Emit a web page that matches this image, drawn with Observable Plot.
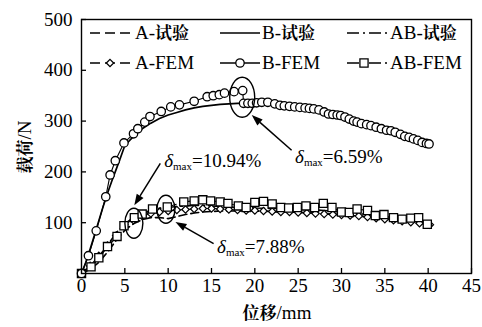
<!DOCTYPE html>
<html><head><meta charset="utf-8">
<script src="https://cdn.jsdelivr.net/npm/d3@7"></script>
<script src="https://cdn.jsdelivr.net/npm/@observablehq/plot@0.6"></script>
<style>
body{margin:0;background:#fff;font-family:"Liberation Serif";}
#chart{width:482px;height:327px;}
</style></head><body><div id="chart"></div>
<script>
// ---- tick labels ----
const xTicks = [0,5,10,15,20,25,30,35,40,45];
const yTicks = [100,200,300,400,500];
const xTitle = "位移/mm";
const yTitle = "载荷/N";
const legendLabels = ["A-试验","B-试验","AB-试验","A-FEM","B-FEM","AB-FEM"];

// ---- B test (solid) ----
const bTestX = [0,0.5,1,1.5,2,2.5,3,3.5,4,4.5,5,6,7,8,9,10,11,12,13,14,15,16,17,18,19,20,21,22,23,24,25,26,27,28,29,30,31,32,33,34,35,36,37,38,39,40];
const bTestY = [0,22,48,76,104,132,158,182,205,228,252,270,285,296,305,312,317,322,326,329,331,333,334,335,335,336,335,333,330,327,325,322,317,313,310,306,301,296,292,288,284,279,273,267,261,256];
// ---- B FEM (circles) ----
const bFemX = [0,0.8,1.7,2.8,3.3,3.9,4.9,6.0,6.5,7.3,7.9,9.2,10.3,11.3,13.0,14.5,15.2,15.9,16.5,17.6,18.6,18.7,19.2,19.7,20.2,20.8,21.5,22.3,22.9,23.4,24.0,24.6,25.2,25.8,26.3,26.8,27.4,28.0,28.5,29.0,29.5,29.9,30.4,30.9,31.4,31.8,32.3,32.9,33.4,34.0,34.6,35.2,35.7,36.2,36.8,37.3,37.8,38.3,38.8,39.3,39.8,40.1];
const bFemY = [0,35,84,151,194,222,257,275,285,298,309,319,328,332,339,348,350,352,355,358,360,335,335,335,336,337,337,334,331,330,329,328,327,326,325,324,322,318,314,313,312,311,308,304,300,298,295,293,291,288,285,282,281,278,274,270,268,265,262,258,256,255];
// ---- A test (dashed) ----
const aTestX = [0,1,2,3,4,5,6,7,8,9,10,11,12,13,14,15,16,17,18,19,20,22,24,26,28,30,32,34,36,38,40];
const aTestY = [0,8,22,42,65,85,98,106,110,110,108,112,116,119,121,122,123,123,123,123,123,122,121,120,118,116,113,110,106,102,97];
// ---- A FEM (diamonds) ----
const aFemX = [0,1,2,3,4,5,6,7,8,9,10,11,12,13,14,15,16,17,18,19,20,21,22,23,24,25,26,27,28,29,30,31,32,33,34,35,36,37,38,39,40.2];
const aFemY = [0,15,35,55,75,92,105,113,118,121,123,125,126,127,128,128,127,126,125,124,124,123,122,121,121,120,119,118,117,116,115,114,113,111,109,107,105,103,101,99,96];
// ---- AB test (dash-dot) ----
const abTestX = [0,1,2,3,4,5,6,7,8,9,10,11,12,13,14,15,16,17,18,19,20,22,24,26,28,30,32,34,36,38,40];
const abTestY = [0,12,30,55,80,98,110,118,124,128,130,132,133,134,134,133,132,131,130,130,129,128,127,126,124,121,118,114,110,106,100];
// ---- AB FEM (squares) ----
const abFemX = [0,1.1,2.0,3.0,4.1,4.9,6.1,7.0,8.2,9.9,11.8,13.0,14.0,14.9,16.0,16.9,18.1,19.0,20.0,21.0,22.0,23.0,23.9,24.9,25.9,26.9,27.9,28.9,30.0,30.9,31.8,33.0,33.9,34.9,36.0,37.0,38.0,38.9,39.9];
const abFemY = [0,13,31,53,73,94,110,117,127,131,141,143,145,143,141,138,133,130,140,142,137,130,129,130,133,130,138,130,121,120,127,124,114,116,110,107,109,110,97];

// ---- annotations (data coordinates) ----
const annX = [24.7, 9.6, 15.7];
const annY = [228, 220, 50.7];
const annVal = ["=6.59%", "=10.94%", "=7.88%"];
const arrX1 = [24.3, 9.15, 15.3], arrY1 = [241.7, 215.6, 58];
const arrX2 = [19.7, 6.15, 10.9], arrY2 = [310.8, 133.4, 100.5];
const ellX = [18.6, 6.1, 9.8], ellY = [346, 98, 125.5];

const rows = (xs, ys) => xs.map((x, i) => ({x, y: ys[i]}));
const bTest = rows(bTestX, bTestY), bFem = rows(bFemX, bFemY);
const aTest = rows(aTestX, aTestY), aFem = rows(aFemX, aFemY);
const abTest = rows(abTestX, abTestY), abFem = rows(abFemX, abFemY);

const SERIF = "Liberation Serif";
const CJK = "Noto Serif CJK SC";
const DASH = "8,4", DASHDOT = "12,4,2,4";
const K = "#000";

const plot = Plot.plot({
  width: 482, height: 327,
  marginLeft: 81, marginRight: 11, marginTop: 19, marginBottom: 54,
  style: {fontFamily: SERIF, fontSize: "19px", color: K, background: "#fff", overflow: "visible"},
  x: {domain: [0, 45], label: null},
  y: {domain: [0, 500], label: null},
  marks: [
    Plot.axisX({ticks: xTicks, tickSize: 0, tickPadding: 5, label: null, fontSize: 19}),
    Plot.axisX({ticks: xTicks, tickSize: 5, dy: -5, tickFormat: () => "", label: null, strokeWidth: 1.3}),
    Plot.axisY({ticks: yTicks, tickSize: 0, tickPadding: 9, label: null, fontSize: 19}),
    Plot.axisY({ticks: yTicks, tickSize: 5, dx: 5, tickFormat: () => "", label: null, strokeWidth: 1.3}),
    Plot.line(aTest, {x: "x", y: "y", stroke: K, strokeWidth: 1.6, strokeDasharray: DASH}),
    Plot.line(abTest, {x: "x", y: "y", stroke: K, strokeWidth: 1.6, strokeDasharray: DASHDOT}),
    Plot.line(aFem, {x: "x", y: "y", stroke: K, strokeWidth: 1.1, strokeDasharray: DASH}),
    Plot.dot(aFem, {x: "x", y: "y", symbol: "diamond2", r: 3.3, fill: "#fff", stroke: K, strokeWidth: 1.2}),
    Plot.line(abFem, {x: "x", y: "y", stroke: K, strokeWidth: 1.1, strokeDasharray: DASHDOT}),
    Plot.dot(abFem, {x: "x", y: "y", symbol: "square", r: 4.6, fill: "#fff", stroke: K, strokeWidth: 1.3}),
    Plot.line(bTest, {x: "x", y: "y", stroke: K, strokeWidth: 1.7}),
    Plot.line(bFem, {x: "x", y: "y", stroke: K, strokeWidth: 1.1}),
    Plot.dot(bFem, {x: "x", y: "y", symbol: "circle", r: 4.2, fill: "#fff", stroke: K, strokeWidth: 1.3}),
    Plot.frame({stroke: K, strokeWidth: 1.4})
  ]
});
document.getElementById("chart").appendChild(plot);

const svg = d3.select(plot);
const sx = plot.scale("x"), sy = plot.scale("y");
const px = v => sx.apply(v), py = v => sy.apply(v);

// ellipses
const ellRx = [12.5, 9, 9], ellRy = [20, 15, 14];
ellX.forEach((x, i) => {
  svg.append("ellipse").attr("cx", px(x)).attr("cy", py(ellY[i]))
    .attr("rx", ellRx[i]).attr("ry", ellRy[i])
    .attr("fill", "none").attr("stroke", K).attr("stroke-width", 1.4);
});
// arrows
arrX1.forEach((x, i) => {
  const x1 = px(x), y1 = py(arrY1[i]), x2 = px(arrX2[i]), y2 = py(arrY2[i]);
  const ang = Math.atan2(y2 - y1, x2 - x1), L = 11, W = 4;
  const bx = x2 - L * Math.cos(ang), by = y2 - L * Math.sin(ang);
  svg.append("line").attr("x1", x1).attr("y1", y1).attr("x2", bx).attr("y2", by)
    .attr("stroke", K).attr("stroke-width", 1.5);
  const p = [[x2, y2], [bx + W * Math.sin(ang), by - W * Math.cos(ang)], [bx - W * Math.sin(ang), by + W * Math.cos(ang)]];
  svg.append("path").attr("d", "M" + p.map(q => q.join(",")).join("L") + "Z").attr("fill", K);
});
// annotation texts
annX.forEach((x, i) => {
  const t = svg.append("text").attr("x", px(x)).attr("y", py(annY[i]) + 6)
    .style("text-anchor", "start").style("font-size", "19px").attr("fill", K);
  t.append("tspan").style("font-style", "italic").text("δ");
  t.append("tspan").style("font-size", "11px").attr("dy", 3).text("max");
  t.append("tspan").attr("dy", -3).text(annVal[i]);
});

// mixed Latin + CJK text
function mixed(sel, str) {
  str.split(/([\u4e00-\u9fff]+)/).filter(s => s).forEach(s => {
    const cjk = /[\u4e00-\u9fff]/.test(s);
    const t = sel.append("tspan").text(s);
    if (cjk) t.attr("class", "cjk").style("font-weight", "bold").style("font-size", "17px");
    else t.style("font-size", "19px");
  });
}
mixed(svg.append("text").attr("x", 277).attr("y", 319).style("text-anchor", "middle").attr("fill", K), xTitle);
mixed(svg.append("text").attr("transform", "translate(31,147) rotate(-90)").style("text-anchor", "middle").attr("fill", K), yTitle);

// legend
const legX1 = [90, 220, 347], legX2 = [132, 260, 388], legTx = [135, 262, 390], legY = [33, 63];
const legDash = ["10,5", null, "12,4,2,4"];
const legSym = [d3.symbolDiamond2, d3.symbolCircle, d3.symbolSquare];
const legSymSize = [3.3, 4.2, 4.6];
const legMx = [110, 240, 364];
legendLabels.forEach((lab, i) => {
  const c = i % 3, r = Math.floor(i / 3), y = legY[r];
  const ln = svg.append("line").attr("x1", legX1[c]).attr("x2", legX2[c]).attr("y1", y).attr("y2", y)
    .attr("stroke", K).attr("stroke-width", 1.6);
  if (legDash[c]) ln.attr("stroke-dasharray", legDash[c]);
  if (r === 1) {
    const s = legSymSize[c];
    svg.append("path").attr("d", d3.symbol(legSym[c], Math.PI * s * s)())
      .attr("transform", `translate(${legMx[c]},${y})`)
      .attr("fill", "#fff").attr("stroke", K).attr("stroke-width", 1.3);
  }
  mixed(svg.append("text").attr("x", legTx[c]).attr("y", y + 6).style("text-anchor", "start").attr("fill", K), lab);
});

// force fonts on every text/tspan with inline !important styles
plot.querySelectorAll("text, tspan").forEach(el => {
  const fam = el.classList.contains("cjk") ? CJK : SERIF;
  el.style.setProperty("font-family", fam, "important");
});
</script></body></html>
